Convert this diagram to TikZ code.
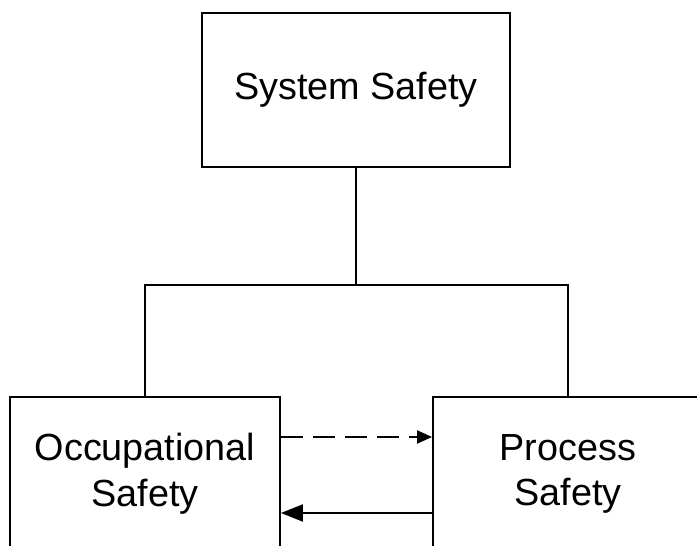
\documentclass[tikz,border=0pt]{standalone}
\usepackage{fontspec}
\setmainfont{Liberation Sans}
\usetikzlibrary{arrows.meta}

\begin{document}
\begin{tikzpicture}[
  x=0.02cm, y=-0.02cm,
  box/.style={draw, line width=1.1pt, minimum width=#1, minimum height=3.08cm,
    inner sep=0pt, align=center, font=\fontsize{21.5}{26}\selectfont},
  link/.style={line width=1.1pt}
  ]
  \useasboundingbox (0,0) rectangle (697,546);
  \clip (0,0) rectangle (697,546);

  \node[box=6.16cm] (NSys)  at (356,90)  {System Safety};
  \node[box=5.4cm]  (NOcc)  at (145,474) {Occupational\\Safety};
  \node[box=5.4cm]  (NProc) at (568,474) {Process\\Safety};
  \coordinate (NJoin) at (356,285);

  \draw[link] (NSys.south) -- (NJoin);
  \draw[link] (NOcc.north) |- (NJoin) -| (NProc.north);

  \path[link,draw]
  ([yshift=0.74cm]NOcc.east)  edge[dash pattern=on 0.44cm off 0.2cm,
                                    -{Triangle[length=0.3cm,width=0.26cm]}]
                                   ([yshift=0.74cm]NProc.west)
  ([yshift=-0.78cm]NProc.west) edge[-{Triangle[length=0.44cm,width=0.34cm]}]
                                   ([yshift=-0.78cm]NOcc.east)
  ;
\end{tikzpicture}
\end{document}
